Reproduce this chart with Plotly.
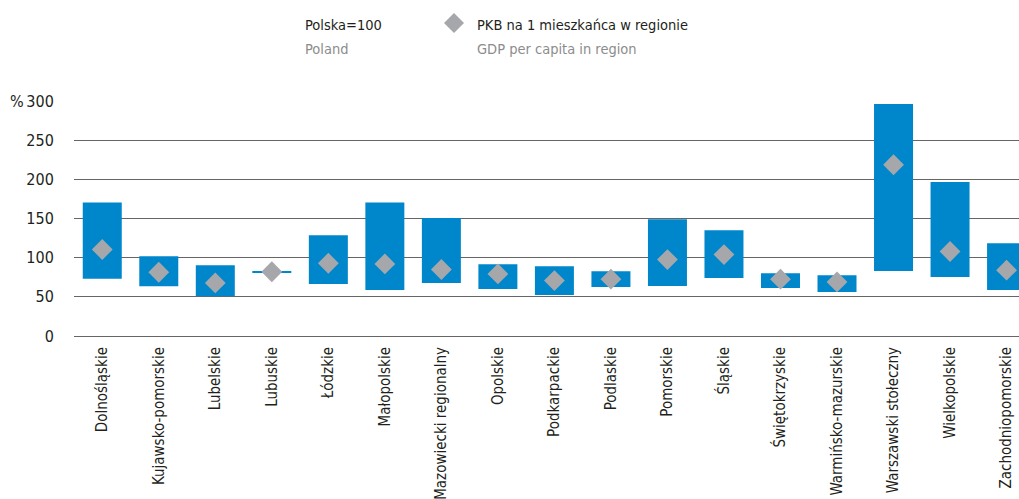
import plotly.graph_objects as go

regions = ["Dolnośląskie", "Kujawsko-pomorskie", "Lubelskie", "Lubuskie", "Łódzkie",
           "Małopolskie", "Mazowiecki regionalny", "Opolskie", "Podkarpackie", "Podlaskie",
           "Pomorskie", "Śląskie", "Świętokrzyskie", "Warmińsko-mazurskie",
           "Warszawski stołeczny", "Wielkopolskie", "Zachodniopomorskie"]
low = [73, 63.5, 50.7, 80.7, 66.5, 58.8, 67.8, 60.1, 52.4, 62.6, 63.9, 74.1, 61.4, 56.2, 83.1, 75.4, 58.8]
high = [170.5, 101.9, 90.4, 82.7, 128.7, 170.5, 150.5, 91.7, 89.1, 82.7, 149.2, 135.1, 80.1, 77.6, 296.2, 196.5, 118.5]
gdp = [110.4, 81.4, 67.8, 82, 92.9, 92, 84.9, 79.3, 70.8, 72.5, 97.6, 104, 72.5, 69, 218.6, 107.9, 84]
yticks = [0, 50, 100, 150, 200, 250, 300]

FONT = "DejaVu Sans Condensed, Liberation Sans Narrow, sans-serif"
BLUE = "#0086cb"
GREY = "#a6a7aa"
TXT = "#231f20"
TXT2 = "#8c8c8c"
GRID = "#656565"

fig = go.Figure()
fig.add_trace(go.Bar(x=regions, y=[h - l for h, l in zip(high, low)], base=low,
                     marker=dict(color=BLUE, line=dict(width=0)), width=0.69,
                     showlegend=False, hoverinfo="skip"))
fig.add_trace(go.Scatter(x=regions, y=gdp, mode="markers",
                         marker=dict(symbol="diamond", size=16, color=GREY, line=dict(width=0)),
                         showlegend=False))

fig.update_layout(
    template="none",
    width=1019, height=499,
    margin=dict(l=74, r=0, t=101, b=163, autoexpand=False),
    paper_bgcolor="white", plot_bgcolor="white",
    font=dict(family=FONT, size=16, color=TXT),
)
fig.update_xaxes(type="category", range=[-0.5, 16.22], tickangle=-90, showgrid=False,
                 showline=False, ticks="outside", ticklen=4, tickcolor="rgba(0,0,0,0)",
                 tickfont=dict(size=15, color=TXT), automargin=False)
fig.update_yaxes(range=[0, 300], tickvals=yticks, showgrid=True, gridcolor=GRID,
                 gridwidth=1.4, zeroline=True, zerolinecolor=GRID, zerolinewidth=1.4,
                 showline=False, ticks="outside", ticklen=16, tickcolor="rgba(0,0,0,0)",
                 tickfont=dict(size=16, color=TXT), automargin=False)

PW, PH = 945, 234.7
def px(x):
    return (x - 74) / PW
def py(y):
    return 1 + (101 - y) / PH

fig.add_annotation(xref="paper", yref="paper", x=px(8), y=1.0, xanchor="left", yanchor="middle",
                   text="%", showarrow=False, font=dict(size=16, color=TXT))
# legend-like header
LEG = 14.5
fig.add_annotation(xref="paper", yref="paper", x=px(303), y=py(25),
                   xanchor="left", yanchor="middle", text="Polska=100", showarrow=False,
                   font=dict(size=LEG, color=TXT))
fig.add_annotation(xref="paper", yref="paper", x=px(303), y=py(49),
                   xanchor="left", yanchor="middle", text="Poland", showarrow=False,
                   font=dict(size=LEG, color=TXT2))
fig.add_annotation(xref="paper", yref="paper", x=px(475), y=py(25),
                   xanchor="left", yanchor="middle", text="PKB na 1 mieszkańca w regionie",
                   showarrow=False, font=dict(size=LEG, color=TXT))
fig.add_annotation(xref="paper", yref="paper", x=px(475), y=py(49),
                   xanchor="left", yanchor="middle", text="GDP per capita in region",
                   showarrow=False, font=dict(size=LEG, color=TXT2))
cx, cy, r = 454, 23, 10
fig.add_shape(type="path", xref="paper", yref="paper",
              path="M {a},{b} L {c},{d} L {a},{e} L {f},{d} Z".format(
                  a=px(cx), b=py(cy - r), c=px(cx + r), d=py(cy), e=py(cy + r), f=px(cx - r)),
              fillcolor=GREY, line=dict(width=0))

fig.write_html("out.html", config={"displayModeBar": False},
               post_script="document.body.style.margin='0';document.body.style.overflow='hidden';")
